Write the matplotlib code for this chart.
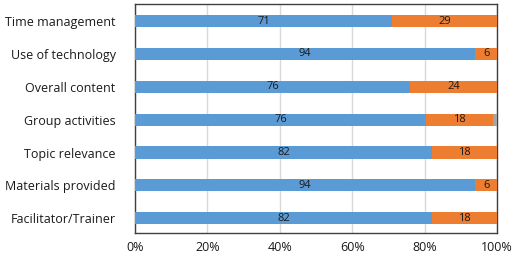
import matplotlib.pyplot as plt

# categories top to bottom
categories = ['Time management', 'Use of technology', 'Overall content',
              'Group activities', 'Topic relevance', 'Materials provided',
              'Facilitator/Trainer']
# segment lengths as drawn (percent)
blue = [71, 94, 76, 80.5, 82, 94, 82]
orange = [29, 6, 24, 18.5, 18, 6, 18]
gray = [0, 0, 0, 1, 0, 0, 0]
# printed data labels
blue_labels = ['71', '94', '76', '76', '82', '94', '82']
orange_labels = ['29', '6', '24', '18', '18', '6', '18']

plt.rcParams['font.family'] = ['Open Sans', 'DejaVu Sans']

fig = plt.figure(figsize=(5.15, 2.59), dpi=100)
ax = fig.add_axes([135/515, 1 - 233/259, 362/515, 229/259])

y = list(range(len(categories)))
h = 0.37
ax.barh(y, blue, height=h, color='#5B9BD5', zorder=3)
ax.barh(y, orange, left=blue, height=h, color='#ED7D31', zorder=3)
left2 = [b + o for b, o in zip(blue, orange)]
ax.barh(y, gray, left=left2, height=h, color='#A5A5A5', zorder=3)

for i in y:
    ax.text(blue[i] / 2, i, blue_labels[i], ha='center', va='center',
            fontsize=8, color='#1a1a1a', zorder=4)
    ax.text(blue[i] + orange[i] / 2, i, orange_labels[i], ha='center',
            va='center', fontsize=8, color='#1a1a1a', zorder=4)

ax.set_xlim(0, 100)
ax.set_ylim(6.45, -0.52)
ax.set_xticks([0, 20, 40, 60, 80, 100])
ax.set_xticklabels(['0%', '20%', '40%', '60%', '80%', '100%'])
ax.set_yticks(y)
ax.set_yticklabels(categories)
ax.tick_params(axis='both', length=0, labelsize=9, colors='#1a1a1a')
ax.tick_params(axis='y', pad=14)
ax.tick_params(axis='x', pad=6)
ax.grid(axis='x', color='#d9d9d9', linewidth=1, zorder=0)
for s in ax.spines.values():
    s.set_color('#404040')
    s.set_linewidth(1)

fig.savefig('out.png', dpi=100)
